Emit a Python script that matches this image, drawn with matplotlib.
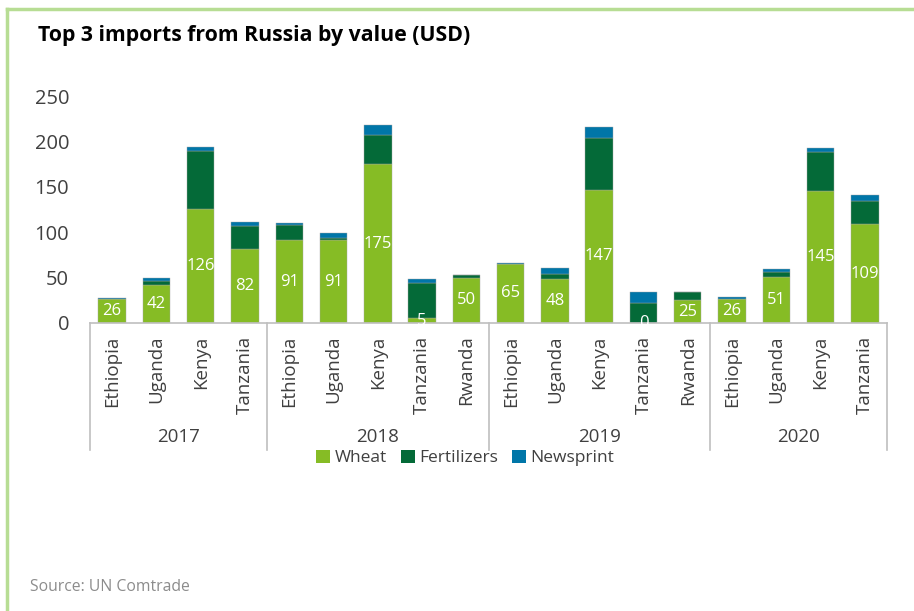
import matplotlib.pyplot as plt
import matplotlib.transforms as mtransforms
from matplotlib.patches import Patch
import numpy as np

# --- data ---
years = ['2017', '2018', '2019', '2020']
countries = [
    ['Ethiopia', 'Uganda', 'Kenya', 'Tanzania'],
    ['Ethiopia', 'Uganda', 'Kenya', 'Tanzania', 'Rwanda'],
    ['Ethiopia', 'Uganda', 'Kenya', 'Tanzania', 'Rwanda'],
    ['Ethiopia', 'Uganda', 'Kenya', 'Tanzania'],
]
wheat = [26, 42, 126, 82, 91, 91, 175, 5, 50, 65, 48, 147, 0, 25, 26, 51, 145, 109]
fertilizers = [0.5, 4, 63, 25, 17, 3, 32, 39, 3, 0.5, 6, 57, 22, 9, 0, 5, 43, 25]
newsprint = [1.5, 4, 5, 4, 2, 5, 11, 4, 0, 0.5, 7, 12, 12, 0, 3, 4, 5, 7]

series_names = ['Wheat', 'Fertilizers', 'Newsprint']
colors = ['#86bc25', '#046a38', '#0076a8']

FONT = 'Open Sans'
TXT = '#404040'
LINE = '#bfbfbf'

plt.rcParams['font.family'] = FONT

fig = plt.figure(figsize=(9.14, 6.11), dpi=100)
ax = fig.add_axes([90 / 914, 288 / 611, 797 / 914, 227 / 611])

labels = [c for grp in countries for c in grp]
x = np.arange(len(labels))
w = np.array(wheat, float)
f = np.array(fertilizers, float)
n = np.array(newsprint, float)

ax.bar(x, w, width=0.62, color=colors[0], edgecolor='#a6a6a6', linewidth=0.3)
ax.bar(x, f, width=0.62, bottom=w, color=colors[1], edgecolor='#a6a6a6', linewidth=0.3)
ax.bar(x, n, width=0.62, bottom=w + f, color=colors[2], edgecolor='#a6a6a6', linewidth=0.3)

# wheat value labels
for xi, v in zip(x, wheat):
    ax.text(xi, v / 2, f'{v:g}', color='white', ha='center', va='center', fontsize=12)

ax.set_xlim(-0.5, len(labels) - 0.5)
ax.set_ylim(0, 250)
ax.set_yticks([0, 50, 100, 150, 200, 250])
ax.tick_params(axis='y', length=0, pad=15, labelsize=14.5, labelcolor=TXT)
ax.set_xticks([])
for s in ['top', 'right', 'left']:
    ax.spines[s].set_visible(False)
ax.spines['bottom'].set_color(LINE)
ax.spines['bottom'].set_linewidth(1.2)

trans = mtransforms.blended_transform_factory(ax.transData, ax.transAxes)

# category labels (rotated)
for xi, lab in zip(x, labels):
    ax.annotate(lab, xy=(xi, 0), xycoords=trans, xytext=(0, -9),
                textcoords='offset points', rotation=90, ha='center', va='top',
                fontsize=13.5, color=TXT)

# group separators and year labels
bounds = [-0.5]
for grp in countries:
    bounds.append(bounds[-1] + len(grp))
for b in bounds:
    ax.plot([b, b], [0, -127 / 227], transform=trans, color=LINE, lw=1.2, clip_on=False)
for i, yr in enumerate(years):
    mid = (bounds[i] + bounds[i + 1]) / 2
    ax.text(mid, -114 / 227, yr, transform=trans, ha='center', va='center',
            fontsize=13.5, color=TXT)

# legend
handles = [Patch(facecolor=c, edgecolor='none') for c in colors]
fig.legend(handles, series_names, loc='center', bbox_to_anchor=(465 / 914, 1 - 458 / 611),
           ncol=3, frameon=False, fontsize=12.5, handlelength=0.8, handleheight=0.8,
           handletextpad=0.25, columnspacing=0.8, labelcolor=TXT)

# title, source, frame
fig.text(38 / 914, 1 - 35 / 611, 'Top 3 imports from Russia by value (USD)',
         fontsize=15.3, fontweight='bold', color='black', ha='left', va='center')
fig.text(30 / 914, 1 - 587 / 611, 'Source: UN Comtrade', fontsize=11.3,
         color='#8c8c8c', ha='left', va='center')

border = '#b7dd94'
fig.add_artist(plt.Line2D([7 / 914, 1], [1 - 9 / 611, 1 - 9 / 611], color=border, lw=2.5,
                          transform=fig.transFigure))
fig.add_artist(plt.Line2D([7 / 914, 7 / 914], [0, 1 - 9 / 611], color=border, lw=2.5,
                          transform=fig.transFigure))

fig.savefig('out.png', dpi=100)
